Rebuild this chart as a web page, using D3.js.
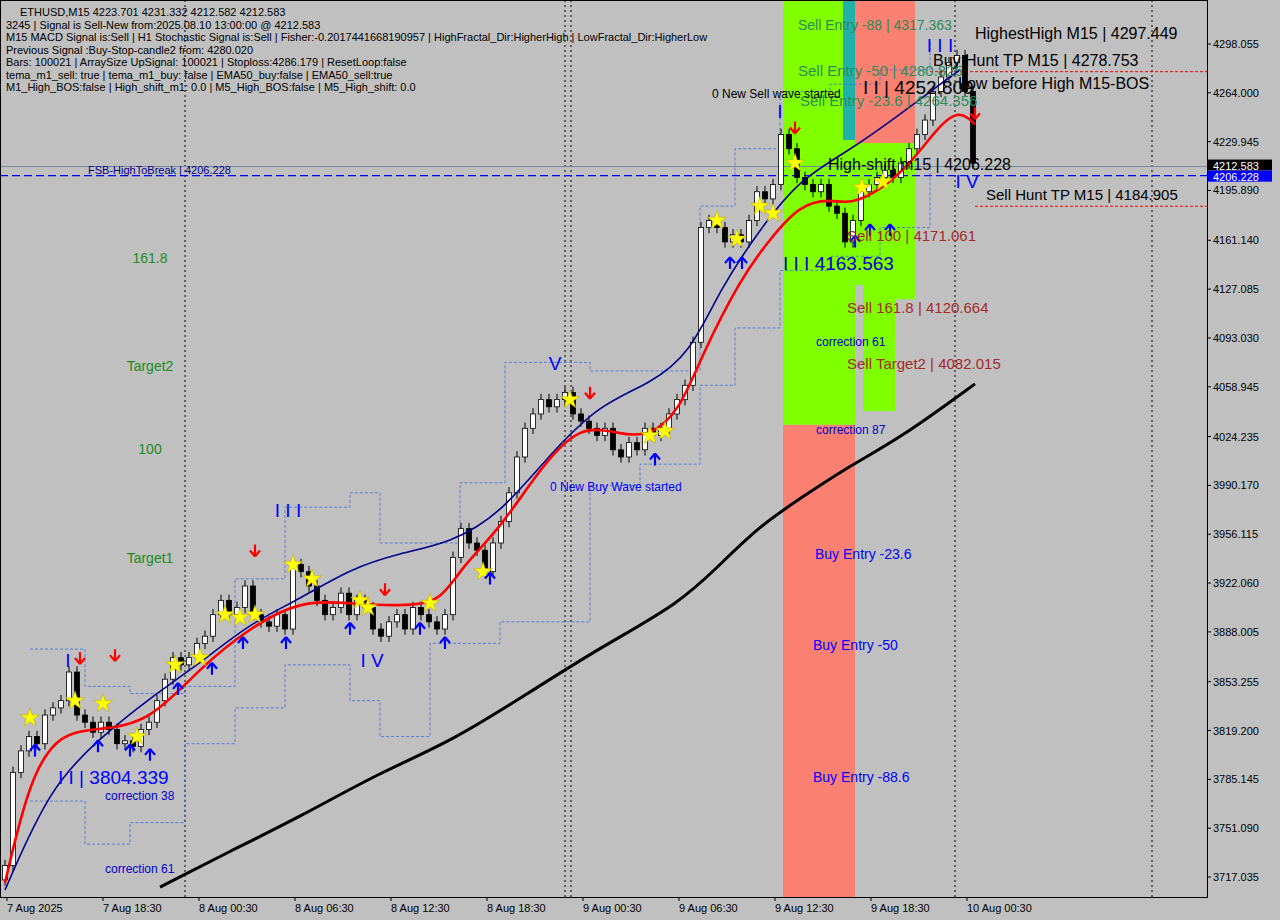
<!DOCTYPE html><html><head><meta charset="utf-8"><script src="https://cdn.jsdelivr.net/npm/d3@7"></script>
<style>body{margin:0;background:#c0c0c0}svg{display:block;font-family:"Liberation Sans",Arial,sans-serif}</style></head><body><svg id="c" width="1280" height="920"></svg><script>
const closes=[3725,3790,3805,3815,3810,3830,3835,3840,3860,3830,3825,3818,3825,3820,3810,3812,3808,3820,3825,3840,3855,3870,3865,3870,3880,3885,3900,3910,3900,3905,3920,3900,3895,3892,3900,3890,3935,3930,3920,3910,3900,3905,3915,3900,3910,3905,3890,3885,3895,3900,3890,3905,3900,3895,3890,3900,3940,3960,3950,3945,3930,3950,3965,3985,4010,4030,4040,4050,4045,4050,4055,4040,4035,4030,4025,4030,4015,4010,4020,4015,4030,4025,4030,4040,4050,4060,4090,4170,4175,4170,4160,4165,4160,4175,4195,4190,4200,4235,4225,4205,4200,4195,4200,4185,4180,4160,4175,4195,4200,4205,4210,4205,4215,4225,4235,4245,4265,4275,4285,4290,4265,4215];
const redX=[5,30,60,100,150,200,250,300,350,400,440,460,500,540,580,620,650,680,700,740,770,800,830,850,880,910,940,960,975];
const redP=[3713,3787,3818,3820,3825,3863,3891,3910,3908,3906,3908,3932,3960,4002,4033,4026,4024,4043,4078,4134,4162,4186,4190,4186,4196,4214,4242,4252,4242];
const navyX=[5,50,100,150,200,250,300,350,400,450,500,550,600,650,690,720,760,800,850,900,940,960];
const navyP=[3708,3780,3814,3842,3866,3894,3911,3932,3943,3950,3970,4012,4047,4061,4082,4127,4169,4204,4224,4249,4270,4280];
const blackX=[160,230,300,380,450,530,600,680,720,760,800,850,900,975];
const blackP=[3710,3735,3759,3790,3811,3846,3877,3908,3935,3962,3981,4004,4023,4061];
const upperX=[30,85,130,185,235,285,350,380,460,505,590,640,700,735,780,830,880,930];
const upperP=[3876,3850,3845,3850,3925,3975,3985,3950,3992,4076,4070,4070,4185,4225,4265,4270,4280,4300];
const lowerX=[30,85,130,185,235,285,350,380,430,500,590,640,700,735,780,830,880,930];
const lowerP=[3770,3740,3755,3810,3835,3865,3840,3815,3880,3895,3990,4005,4060,4100,4140,4150,4170,4220];
const priceTicks=[4298.055,4264.000,4229.945,4195.890,4161.140,4127.085,4093.030,4058.945,4024.235,3990.170,3956.115,3922.060,3888.005,3853.255,3819.200,3785.145,3751.090,3717.035];
const timeLabels=["7 Aug 2025","7 Aug 18:30","8 Aug 00:30","8 Aug 06:30","8 Aug 12:30","8 Aug 18:30","9 Aug 00:30","9 Aug 06:30","9 Aug 12:30","9 Aug 18:30","10 Aug 00:30"];
const starX=[30,75,103,137,175,200,225,240,255,293,312,360,368,430,483,570,650,665,717,737,760,773,795,862,883];
const starP=[3828,3840,3838,3815,3865,3870,3900,3898,3900,3935,3925,3910,3905,3908,3930,4050,4025,4028,4175,4162,4185,4180,4215,4198,4202];
const upX=[35,98,130,150,178,212,243,286,350,420,445,490,655,730,742,855,870,890];
const upP=[3815,3818,3815,3812,3858,3872,3890,3890,3900,3900,3890,3935,4018,4155,4155,4170,4178,4178];
const dnX=[80,115,255,385,590,795,975];
const dnP=[3860,3862,3935,3908,4045,4230,4240];
const info=["3245 | Signal is Sell-New from:2025.08.10 13:00:00 @ 4212.583","M15 MACD Signal is:Sell | H1 Stochastic Signal is:Sell | Fisher:-0.2017441668190957 | HighFractal_Dir:HigherHigh | LowFractal_Dir:HigherLow","Previous Signal :Buy-Stop-candle2 from: 4280.020","Bars: 100021 | ArraySize UpSignal: 100021 | Stoploss:4286.179 | ResetLoop:false","tema_m1_sell: true | tema_m1_buy: false | EMA50_buy:false | EMA50_sell:true","M1_High_BOS:false | High_shift_m1: 0.0 | M5_High_BOS:false | M5_High_shift: 0.0"];

const svg=d3.select("#c");
const W=1207,H=897;
const y=d3.scaleLinear().domain([3717.035,4298.055]).range([877,44]);
const t0=new Date(2025,7,7,12,30);
const x=d3.scaleTime().domain([t0,new Date(t0.getTime()+6*3600e3)]).range([7,103]);
const xi=d3.scaleLinear().domain([0,1]).range([5,13]);
const g=svg.append("g");
const rect=(x0,x1,p0,p1,c)=>g.append("rect").attr("x",x0).attr("width",x1-x0).attr("y",p0===null?0:y(p0)).attr("height",(p1===null?H:y(p1))-(p0===null?0:y(p0))).attr("fill",c);
rect(783,855,4032.5,null,"#fa8072");
rect(783,843,null,4032.5,"#7fff00");
rect(843,855,null,4231,"#20b2aa");
rect(843,855,4231,4032.5,"#7fff00");
rect(855,915,null,4229,"#fa8072");
rect(855,915,4229,4130,"#7fff00");
rect(863,895,4130,4042,"#7fff00");
rect(895,915,4130,4120,"#7fff00");
[185,565,571,955,1152].forEach(vx=>g.append("line").attr("x1",vx).attr("x2",vx).attr("y1",0).attr("y2",H).attr("stroke","#000").attr("stroke-dasharray","2,3"));
g.append("line").attr("x1",0).attr("x2",W).attr("y1",y(4212.583)).attr("y2",y(4212.583)).attr("stroke","#778899");
g.append("line").attr("x1",0).attr("x2",W).attr("y1",y(4206.228)).attr("y2",y(4206.228)).attr("stroke","#0000ff").attr("stroke-dasharray","8,4").attr("stroke-width",1.2);
g.append("line").attr("x1",930).attr("x2",W).attr("y1",y(4278.753)).attr("y2",y(4278.753)).attr("stroke","#e00").attr("stroke-dasharray","3,2");
g.append("line").attr("x1",975).attr("x2",W).attr("y1",y(4184.905)).attr("y2",y(4184.905)).attr("stroke","#e00").attr("stroke-dasharray","3,2");
const step=(xs,ps,c)=>g.append("path").attr("d",d3.line().curve(d3.curveStepAfter).x((d,i)=>xs[i]).y(d=>y(d))(ps)).attr("fill","none").attr("stroke",c).attr("stroke-width",0.8).attr("stroke-dasharray","3,2");
step(upperX,upperP,"#4169e1");step(lowerX,lowerP,"#4169e1");
closes.forEach((c,i)=>{const o=i?closes[i-1]:c-10;const hi=Math.max(o,c)+4,lo=Math.min(o,c)-4;const cx=xi(i);
g.append("line").attr("x1",cx).attr("x2",cx).attr("y1",y(hi)).attr("y2",y(lo)).attr("stroke","#000");
g.append("rect").attr("x",cx-2.5).attr("width",5).attr("y",y(Math.max(o,c))).attr("height",Math.max(1,Math.abs(y(o)-y(c)))).attr("fill",c>=o?"#fff":"#000").attr("stroke","#000").attr("stroke-width",0.8);});
const ln=(xs,ps,c,w)=>g.append("path").attr("d",d3.line().curve(d3.curveBasis).x((d,i)=>xs[i]).y(d=>y(d))(ps)).attr("fill","none").attr("stroke",c).attr("stroke-width",w);
ln(blackX,blackP,"#000",3);ln(navyX,navyP,"#00008b",1.6);ln(redX,redP,"#ff0000",2.6);
const star=d3.symbol().type(d3.symbolStar).size(110);
starX.forEach((sx,i)=>g.append("path").attr("d",star).attr("transform",`translate(${sx},${y(starP[i])})`).attr("fill","#ffff00").attr("stroke","#b8a000").attr("stroke-width",0.5));
const arrow=(ax,ay,up,c)=>{const s=up?1:-1;g.append("path").attr("d",`M${ax},${ay} l-5,${6*s} M${ax},${ay} l5,${6*s} M${ax},${ay} v${12*s}`).attr("stroke",c).attr("stroke-width",2.2).attr("fill","none");};
upX.forEach((ax,i)=>arrow(ax,y(upP[i])+8,true,"#0000ff"));
dnX.forEach((ax,i)=>arrow(ax,y(dnP[i])-8,false,"#ff0000"));
const T=(tx,ty,s,c,fs,anchor,par)=>(par||g).append("text").attr("x",tx).attr("y",ty).text(s).attr("fill",c).attr("font-size",fs).attr("text-anchor",anchor||"start");
T(150,263,"161.8","#228b22",14,"middle");T(150,371,"Target2","#228b22",14,"middle");T(150,454,"100","#228b22",14,"middle");T(150,563,"Target1","#228b22",14,"middle");
T(88,174,"FSB-HighToBreak | 4206.228","#00008b",11);
T(798,30,"Sell Entry -88 | 4317.363","#2e8b57",14);T(798,76,"Sell Entry -50 | 4280.825","#2e8b57",15);T(800,106,"Sell Entry -23.6 | 4264.356","#2e8b57",15);
T(712,98,"0 New Sell wave started","#000",12);
T(863,94,"I I | 4252.809","#000",19);
T(975,39,"HighestHigh   M15 | 4297.449","#000",16);T(933,66,"Buy Hunt TP M15 | 4278.753","#000",16);T(958,89,"Low before High    M15-BOS","#000",16);
T(828,170,"High-shift m15 | 4206.228","#000",16);T(986,200,"Sell Hunt TP M15 | 4184.905","#000",15);
T(847,241,"Sell 100 | 4171.061","#a52a2a",15);T(847,313,"Sell 161.8 | 4120.664","#a52a2a",15);T(847,369,"Sell Target2 | 4082.015","#a52a2a",15);
T(783,270,"I I I 4163.563","#0000cd",19);
T(816,346,"correction 61","#0000cd",12);T(816,434,"correction 87","#0000cd",12);
T(815,559,"Buy Entry -23.6","#0000ff",14);T(813,650,"Buy Entry -50","#0000ff",14);T(813,782,"Buy Entry -88.6","#0000ff",14);
T(550,491,"0 New Buy Wave started","#0000ff",12);
T(58,784,"I I | 3804.339","#0000ff",19);T(105,800,"correction 38","#0000cd",12);T(105,873,"correction 61","#0000cd",12);
T(288,517,"I I I","#0000ff",19,"middle");T(372,667,"I V","#0000ff",19,"middle");T(555,370,"V","#0000ff",19,"middle");T(68,667,"I","#0000ff",19,"middle");T(780,118,"I","#0000ff",19,"middle");T(940,52,"I I I","#0000ff",19,"middle");T(967,188,"I V","#0000ff",19,"middle");
T(20,16,"ETHUSD,M15  4223.701 4231.332 4212.582 4212.583","#000",11);
info.forEach((s,i)=>T(6,29+i*12.4,s,"#000",11));
const ax=svg.append("g");
ax.append("rect").attr("x",0.5).attr("y",0.5).attr("width",W).attr("height",H).attr("fill","none").attr("stroke","#000");
priceTicks.forEach(p=>{ax.append("line").attr("x1",W).attr("x2",W+4).attr("y1",y(p)).attr("y2",y(p)).attr("stroke","#000");T(1213,y(p)+4,p.toFixed(3),"#000",11,"start",ax);});
ax.append("rect").attr("x",1208).attr("y",y(4212.583)-7).attr("width",64).attr("height",11).attr("fill","#000");T(1213,y(4212.583)+3,"4212.583","#fff",11,"start",ax);
ax.append("rect").attr("x",1208).attr("y",y(4206.228)-5).attr("width",64).attr("height",11).attr("fill","#0000ff");T(1213,y(4206.228)+5,"4206.228","#fff",11,"start",ax);
timeLabels.forEach((s,i)=>{const tx=x(new Date(t0.getTime()+i*6*3600e3));ax.append("line").attr("x1",tx).attr("x2",tx).attr("y1",H).attr("y2",H+4).attr("stroke","#000");T(tx,912,s,"#000",11,"start",ax);});
</script></body></html>
